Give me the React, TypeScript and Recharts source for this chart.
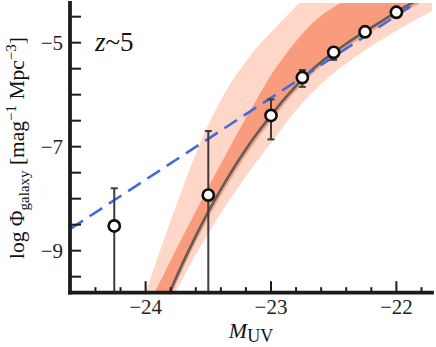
import React from 'react';
import { ComposedChart, Area, Line, Scatter, XAxis, YAxis, ErrorBar } from 'recharts';

const FONT = '"Liberation Serif", "Times New Roman", Times, serif';

// Grid of absolute magnitudes for the model curves and their uncertainty bands
const bandM = [-24.1, -24.0, -23.9, -23.8, -23.7, -23.6, -23.5, -23.4, -23.3, -23.2, -23.1, -23.0, -22.9, -22.8, -22.7, -22.6, -22.5, -22.4, -22.3, -22.2, -22.1, -22.0, -21.9, -21.8, -21.7];
// best-fit (gray solid line)
const fitLogPhi = [-11.7, -11.0, -10.36, -9.76, -9.22, -8.72, -8.25, -7.82, -7.42, -7.05, -6.71, -6.4, -6.1, -5.83, -5.58, -5.37, -5.19, -5.02, -4.86, -4.71, -4.56, -4.41, -4.27, -4.14, -4.01];
// inner (dark) band
const darkUpper = [-10.65, -10.15, -9.67, -9.19, -8.71, -8.24, -7.78, -7.33, -6.88, -6.45, -6.03, -5.62, -5.28, -4.97, -4.7, -4.48, -4.32, -4.18, -4.05, -3.92, -3.8, -3.68, -3.56, -3.44, -3.32];
const darkLower = [-11.85, -11.13, -10.48, -9.88, -9.34, -8.84, -8.37, -7.94, -7.54, -7.16, -6.82, -6.5, -6.2, -5.92, -5.67, -5.45, -5.27, -5.1, -4.94, -4.79, -4.64, -4.49, -4.35, -4.22, -4.09];
// outer (light) band
const lightUpper = [-10.5, -9.8, -9.1, -8.42, -7.76, -7.14, -6.58, -6.1, -5.7, -5.36, -5.06, -4.8, -4.55, -4.3, -4.06, -3.84, -3.64, -3.45, -3.27, -3.1, -2.94, -2.78, -2.63, -2.48, -2.34];
const lightLower = [-12.0, -11.3, -10.6, -9.98, -9.52, -9.08, -8.67, -8.28, -7.92, -7.57, -7.24, -6.93, -6.6, -6.3, -6.03, -5.8, -5.59, -5.4, -5.23, -5.07, -4.92, -4.77, -4.63, -4.5, -4.37];

// blue dashed power law
const powerLawM = [-24.6, -23.0, -21.72];
const powerLawLogPhi = [-8.58, -6.06, -4.04];

// observed points (lower error bars of the two brightest bins run past the bottom of the frame)
const obsM = [-24.25, -23.5, -23.0, -22.75, -22.5, -22.25, -22.0];
const obsLogPhi = [-8.525, -7.93, -6.4, -5.67, -5.185, -4.79, -4.415];
const obsErrLow = [1.285, 1.88, 0.46, 0.18, 0.145, 0.06, 0.04];
const obsErrHigh = [0.725, 1.23, 0.31, 0.145, 0.07, 0.05, 0.03];

const xDomain = [-24.603, -21.716];
const yDomain = [-9.808, -4.237];
const xTicks = [-24.4, -24.2, -24.0, -23.8, -23.6, -23.4, -23.2, -23.0, -22.8, -22.6, -22.4, -22.2, -22.0, -21.8];
const xLabelTicks = [-24, -23, -22];
const yTicks = [-9.5, -9.0, -8.5, -8.0, -7.5, -7.0, -6.5, -6.0, -5.5, -5.0, -4.5];
const yLabelTicks = [-9, -7, -5];

const chartData = bandM.map((m, i) => ({
  M: m,
  light: [lightLower[i], lightUpper[i]],
  dark: [darkLower[i], darkUpper[i]],
  fit: fitLogPhi[i],
}));
const powerLawData = powerLawM.map((m, i) => ({ M: m, v: powerLawLogPhi[i] }));
const obsData = obsM.map((m, i) => ({ M: m, v: obsLogPhi[i], err: [obsErrLow[i], obsErrHigh[i]] }));

const AXIS_COLOR = '#1c1c1c';
const fmt = (v: number) => (v < 0 ? '\u2212' + Math.abs(v) : String(v));
const isLabel = (v: number, list: number[]) => list.some((t) => Math.abs(t - v) < 1e-6);
const isInt = (v: number) => Math.abs(v - Math.round(v)) < 1e-6;

const BottomTick = (props: any) => {
  const { x, y, payload } = props;
  const v = payload.value;
  const major = isInt(v);
  return (
    <g>
      <line x1={x} x2={x} y1={y} y2={y - (major ? 11.5 : 5.5)} stroke={AXIS_COLOR} strokeWidth={2} />
      {isLabel(v, xLabelTicks) && (
        <text x={x} y={y + 21} textAnchor="middle" fontFamily={FONT} fontSize={21} fill="#222">
          {fmt(v)}
        </text>
      )}
    </g>
  );
};
const TopTick = (props: any) => {
  const { x, y, payload } = props;
  const major = isInt(payload.value);
  return <line x1={x} x2={x} y1={y} y2={y + (major ? 11 : 5)} stroke={AXIS_COLOR} strokeWidth={2} />;
};
const LeftTick = (props: any) => {
  const { x, y, payload } = props;
  const v = payload.value;
  return (
    <g>
      <line x1={x} x2={x + 11} y1={y} y2={y} stroke={AXIS_COLOR} strokeWidth={2} />
      {isLabel(v, yLabelTicks) && (
        <text x={x - 7} y={y + 7} textAnchor="end" fontFamily={FONT} fontSize={21} fill="#222">
          {fmt(v)}
        </text>
      )}
    </g>
  );
};
const RightTick = (props: any) => {
  const { x, y } = props;
  return <line x1={x} x2={x - 10} y1={y} y2={y} stroke={AXIS_COLOR} strokeWidth={2} />;
};

const axisLineStyle = { stroke: AXIS_COLOR, strokeWidth: 3.8, strokeLinecap: 'square' as const };

const Marker = (p: any) => (
  <circle cx={p.cx} cy={p.cy} r={5.6} fill="#ffffff" stroke="#0d0d0d" strokeWidth={2.6} />
);

export default function App() {
  return (
    <div style={{ position: 'absolute', left: 0, top: 0, width: 436, height: 347, background: '#fff' }}>
      <ComposedChart
        width={436}
        height={347}
        data={chartData}
        margin={{ top: 3, right: 4, bottom: 0, left: 0 }}
      >
        <Area
          type="monotone"
          dataKey="light"
          stroke="none"
          fill="#fed7c9"
          fillOpacity={1}
          isAnimationActive={false}
          dot={false}
          activeDot={false}
        />
        <Area
          type="monotone"
          dataKey="dark"
          stroke="none"
          fill="#f99c7d"
          fillOpacity={1}
          isAnimationActive={false}
          dot={false}
          activeDot={false}
        />
        <Line
          type="monotone"
          dataKey="fit"
          stroke="#5e5e5e"
          strokeWidth={2.6}
          dot={false}
          activeDot={false}
          isAnimationActive={false}
        />
        <Line
          data={powerLawData}
          type="linear"
          dataKey="v"
          stroke="#4169e1"
          strokeWidth={2.6}
          strokeDasharray="15 8"
          dot={false}
          activeDot={false}
          isAnimationActive={false}
        />
        <Scatter data={obsData} dataKey="v" shape={Marker} isAnimationActive={false}>
          <ErrorBar dataKey="err" direction="y" width={3.5} stroke="#3c3c3c" strokeWidth={2} />
        </Scatter>
        <XAxis
          dataKey="M"
          type="number"
          domain={xDomain}
          allowDataOverflow
          ticks={xTicks}
          interval={0}
          tick={BottomTick}
          tickLine={false}
          tickSize={0}
          tickMargin={0}
          axisLine={axisLineStyle}
          height={54.3}
        />
        <XAxis
          xAxisId="top"
          orientation="top"
          type="number"
          domain={xDomain}
          allowDataOverflow
          ticks={xTicks}
          interval={0}
          tick={TopTick}
          tickLine={false}
          tickSize={0}
          tickMargin={0}
          axisLine={axisLineStyle}
          height={0}
        />
        <YAxis
          type="number"
          domain={yDomain}
          allowDataOverflow
          ticks={yTicks}
          interval={0}
          tick={LeftTick}
          tickLine={false}
          tickSize={0}
          tickMargin={0}
          axisLine={axisLineStyle}
          width={70}
        />
        <YAxis
          yAxisId="right"
          orientation="right"
          type="number"
          domain={yDomain}
          allowDataOverflow
          ticks={yTicks}
          interval={0}
          tick={RightTick}
          tickLine={false}
          tickSize={0}
          tickMargin={0}
          axisLine={axisLineStyle}
          width={0}
        />
      </ComposedChart>
      <svg
        width={436}
        height={347}
        style={{ position: 'absolute', left: 0, top: 0, pointerEvents: 'none' }}
      >
        <text x={95} y={51} fontFamily={FONT} fontSize={27} fill="#111">
          <tspan fontStyle="italic">z</tspan>~5
        </text>
        <text x={251} y={338} textAnchor="middle" fontFamily={FONT} fontSize={22} fill="#111">
          <tspan fontStyle="italic">M</tspan>
          <tspan fontSize={18} dy={4}>UV</tspan>
        </text>
        <text transform="translate(24,148) rotate(-90)" textAnchor="middle" fontFamily={FONT} fontSize={21.5} fill="#111">
          log Φ<tspan fontSize={15} dy={5}>galaxy</tspan>
          <tspan dy={-5}> [mag</tspan>
          <tspan fontSize={15} dy={-8}>−1</tspan>
          <tspan dy={8}> Mpc</tspan>
          <tspan fontSize={15} dy={-8}>−3</tspan>
          <tspan dy={8}>]</tspan>
        </text>
      </svg>
    </div>
  );
}
